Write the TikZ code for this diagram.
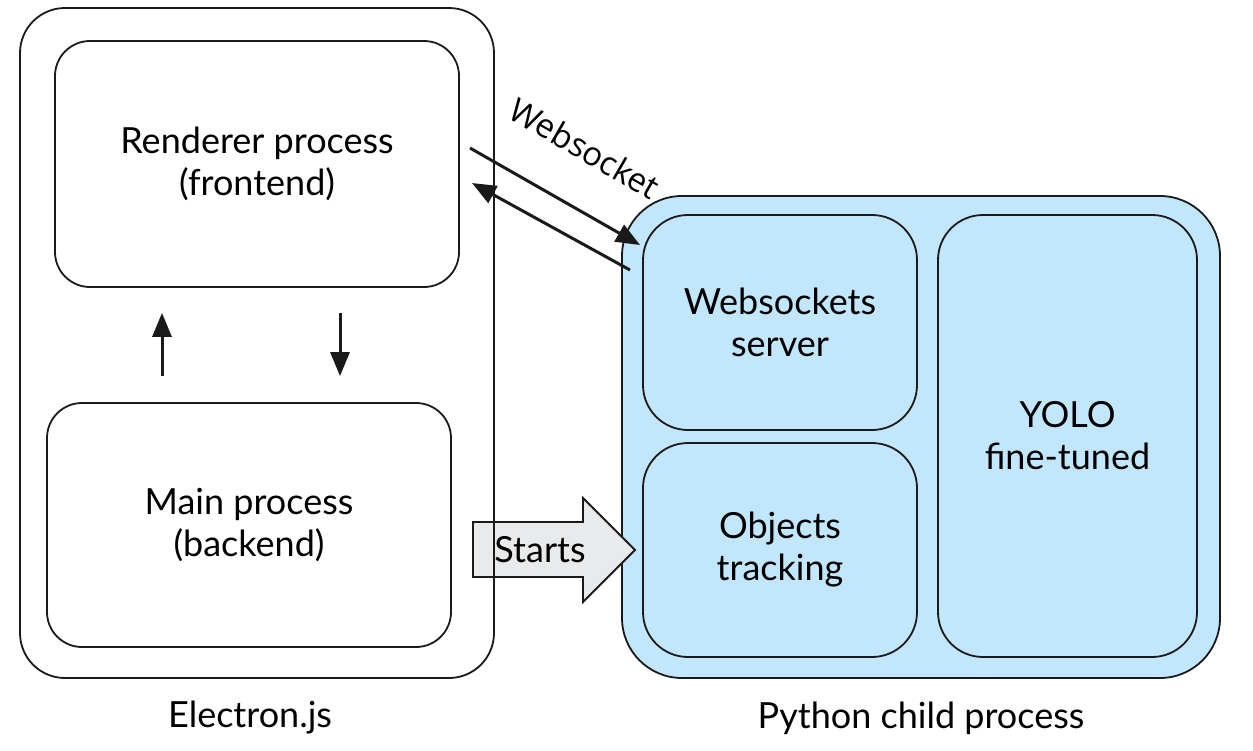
\documentclass[tikz,border=0pt]{standalone}
\usepackage{fontspec}
\setmainfont{Lato}
\newfontfamily\wsfont{Open Sans}
\usetikzlibrary{arrows.meta,calc}
\definecolor{pyblue}{HTML}{C2E7FD}
\definecolor{startgray}{HTML}{E8EAEB}
\definecolor{ink}{HTML}{1A1A1A}
\tikzset{
  box/.style={draw=ink, line width=1.8pt, rectangle, align=center,
    font=\fontsize{36}{42}\selectfont, inner sep=0pt},
  pybox/.style={box, fill=pyblue},
  arr/.style={draw=ink, line width=3pt, -{Triangle[length=24pt,width=19pt]}},
  lbl/.style={font=\fontsize{36}{42}\selectfont, inner sep=0pt},
}
\begin{document}
\begin{tikzpicture}[x=1pt,y=-1pt]
\useasboundingbox (0,0) rectangle (1253,750);
% Python child process
\node[pybox, minimum width=598pt, minimum height=482pt, rounded corners=60pt] (py) at (921,437) {};
\node[pybox, minimum width=274pt, minimum height=215pt, rounded corners=45pt] (ws) at (780,322.5) {Websockets\\server};
\node[pybox, minimum width=274pt, minimum height=214pt, rounded corners=45pt] (obj) at (780,550) {Objects\\tracking};
\node[pybox, minimum width=259pt, minimum height=442pt, rounded corners=45pt] (yolo) at (1067.5,436) {YOLO\\fine-tuned};
% Starts block arrow
\draw[draw=ink, line width=1.8pt, fill=startgray] (473,522) -- (583,522) -- (583,498) -- (635,550) -- (583,602) -- (583,577) -- (473,577) -- cycle;
\node[lbl] (starts) at (540,550) {Starts};
% Electron.js
\node[box, minimum width=474pt, minimum height=670pt, rounded corners=45pt] (el) at (257,343) {};
\node[box, minimum width=404pt, minimum height=246pt, rounded corners=35pt] (ren) at (257,164) {Renderer process\\(frontend)};
\node[box, minimum width=404pt, minimum height=244pt, rounded corners=35pt] (main) at (249,525) {Main process\\(backend)};
% internal arrows
\draw[arr] ([xshift=-87pt,yshift=26pt]main.north) -- ([xshift=-95pt,yshift=-25pt]ren.south);
\draw[arr] ([xshift=83pt,yshift=-25pt]ren.south) -- ([xshift=91pt,yshift=26pt]main.north);
% websocket arrows
\coordinate (w1a) at (470,148);
\coordinate (w1b) at (640,245);
\coordinate (w2a) at (630,270);
\coordinate (w2b) at (472,183);
\draw[arr] (w1a) -- (w1b);
\draw[arr] (w2a) -- (w2b);
\node[font=\wsfont\fontsize{33}{38}\selectfont, rotate=-30, inner sep=0pt] (wslbl) at (585,148) {Websocket};
% labels
\node[lbl] (ellbl) at (250,718) {Electron.js};
\node[lbl] (pylbl) at (921,718) {Python child process};
\end{tikzpicture}
\end{document}
